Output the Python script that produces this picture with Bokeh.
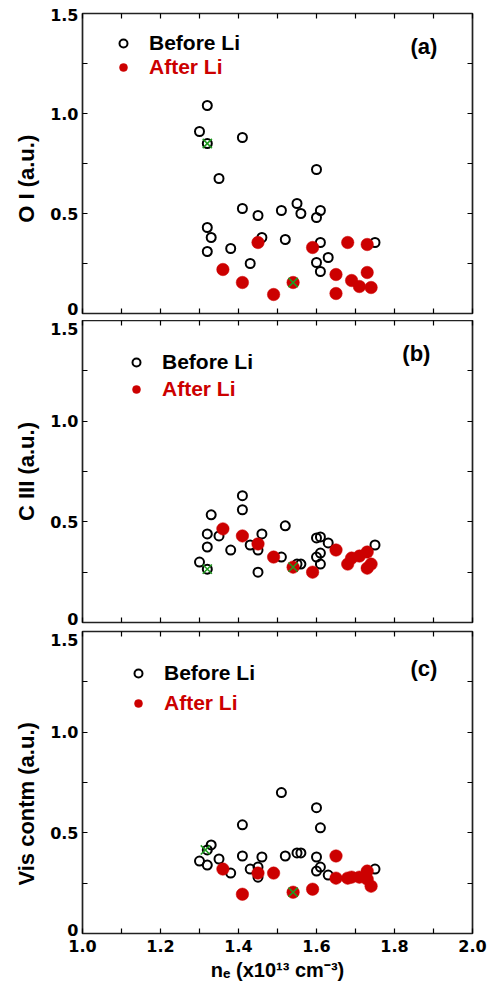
from bokeh.plotting import figure
from bokeh.models import (FixedTicker, LinearAxis, CustomJSTickFormatter, Legend,
                          LegendItem, Label, Range1d)
from bokeh.layouts import column
from bokeh.embed import file_html
from bokeh.resources import INLINE

# ---------------- data ----------------
x_ticks = [1.0, 1.2, 1.4, 1.6, 1.8, 2.0]
x_minor = [1.1, 1.3, 1.5, 1.7, 1.9]
y_ticks = [0.5, 1.0]
y_minor = [0.25, 0.75, 1.25]
y_all_ticks = [0.25, 0.5, 0.75, 1.0, 1.25]

# (a) O I
xa_before = [1.32, 1.30, 1.32, 1.41, 1.35, 1.60, 1.41, 1.45, 1.51, 1.55, 1.56, 1.61, 1.60,
             1.32, 1.33, 1.32, 1.38, 1.46, 1.52, 1.43, 1.61, 1.63, 1.60, 1.61, 1.75]
ya_before = [1.04, 0.91, 0.85, 0.88, 0.675, 0.72, 0.525, 0.49, 0.515, 0.55, 0.50, 0.515, 0.48,
             0.43, 0.38, 0.31, 0.325, 0.38, 0.37, 0.25, 0.355, 0.28, 0.255, 0.21, 0.355]
xa_after = [1.36, 1.45, 1.41, 1.49, 1.54, 1.59, 1.65, 1.65, 1.68, 1.69, 1.71, 1.73, 1.73, 1.74]
ya_after = [0.22, 0.355, 0.155, 0.095, 0.155, 0.33, 0.195, 0.10, 0.355, 0.165, 0.135, 0.345, 0.205, 0.13]
xa_mark = [1.32, 1.54]
ya_mark = [0.85, 0.155]

# (b) C III
xb_before = [1.30, 1.32, 1.32, 1.32, 1.33, 1.35, 1.38, 1.41, 1.41, 1.43, 1.45, 1.45, 1.46, 1.51,
             1.52, 1.55, 1.56, 1.60, 1.61, 1.63, 1.61, 1.60, 1.61, 1.75]
yb_before = [0.30, 0.265, 0.375, 0.44, 0.535, 0.43, 0.36, 0.63, 0.56, 0.385, 0.36, 0.25, 0.44, 0.325,
             0.48, 0.29, 0.29, 0.42, 0.425, 0.395, 0.345, 0.325, 0.29, 0.385]
xb_after = [1.36, 1.41, 1.45, 1.49, 1.54, 1.59, 1.65, 1.68, 1.69, 1.71, 1.73, 1.73, 1.74]
yb_after = [0.465, 0.43, 0.39, 0.325, 0.275, 0.25, 0.36, 0.29, 0.32, 0.33, 0.35, 0.27, 0.29]
xb_mark = [1.32, 1.54]
yb_mark = [0.265, 0.275]

# (c) Vis contm
xc_before = [1.30, 1.32, 1.32, 1.33, 1.35, 1.38, 1.41, 1.41, 1.43, 1.45, 1.45, 1.46, 1.51, 1.52,
             1.55, 1.56, 1.60, 1.61, 1.60, 1.61, 1.60, 1.63, 1.75]
yc_before = [0.36, 0.34, 0.415, 0.44, 0.37, 0.30, 0.385, 0.54, 0.32, 0.33, 0.28, 0.38, 0.70, 0.385,
             0.40, 0.40, 0.625, 0.525, 0.38, 0.33, 0.31, 0.29, 0.32]
xc_after = [1.36, 1.41, 1.45, 1.49, 1.54, 1.59, 1.65, 1.65, 1.68, 1.69, 1.71, 1.73, 1.73, 1.74]
yc_after = [0.32, 0.195, 0.30, 0.30, 0.205, 0.22, 0.385, 0.275, 0.275, 0.28, 0.28, 0.31, 0.27, 0.235]
xc_mark = [1.315, 1.54]
yc_mark = [0.415, 0.205]

RED = "#cc0000"
GREEN = "#1f9a1f"
NB = "\u00a0"

EMPTY = "return ''"
ONE_DEC = "return tick.toFixed(1)"
# end labels are drawn a little inside the panel span, as in the original
Y_LABELS = "if (tick < 0.1) return '0'; if (tick > 1.4) return '1.5'; return tick.toFixed(1);"


def style_axis(ax, code=EMPTY):
    ax.axis_line_color = None
    ax.major_tick_in = 5
    ax.major_tick_out = 0
    ax.minor_tick_in = 5
    ax.minor_tick_out = 0
    ax.major_tick_line_color = "black"
    ax.minor_tick_line_color = "black"
    ax.major_tick_line_width = 1.2
    ax.minor_tick_line_width = 1.2
    ax.formatter = CustomJSTickFormatter(code=code)
    if code == EMPTY:
        ax.major_label_standoff = 0


def make_panel(xb, yb, xa, ya, xm, ym, ylabel, tag, tag_xy, leg_pos, lab_pos,
               top, bottom, fh, show_x):
    p = figure(frame_width=390, frame_height=fh, output_backend="svg",
               toolbar_location=None, x_range=Range1d(1.0, 2.0), y_range=Range1d(0, 1.5),
               min_border_left=82, min_border_right=23, min_border_top=top,
               min_border_bottom=bottom, x_axis_location=None, y_axis_location=None)
    p.grid.visible = False
    p.outline_line_color = "#222222"
    p.outline_line_width = 1.7
    p.background_fill_color = "white"
    p.border_fill_color = "white"

    # x axes
    xt = FixedTicker(ticks=x_ticks, minor_ticks=x_minor)
    bottom_ax = LinearAxis(ticker=xt)
    style_axis(bottom_ax, ONE_DEC if show_x else EMPTY)
    if show_x:
        bottom_ax.major_label_text_font = "DejaVu Sans"
        bottom_ax.major_label_text_font_style = "bold"
        bottom_ax.major_label_text_font_size = "16px"
        bottom_ax.major_label_text_color = "black"
        bottom_ax.major_label_standoff = 6
        bottom_ax.axis_label = "n\u2091 (x10\u00b9\u00b3 cm\u207b\u00b3)"
        bottom_ax.axis_label_text_font = "Liberation Sans"
        bottom_ax.axis_label_text_font_style = "bold"
        bottom_ax.axis_label_text_font_size = "20px"
        bottom_ax.axis_label_text_color = "black"
        bottom_ax.axis_label_standoff = 4
    p.add_layout(bottom_ax, "below")
    top_ax = LinearAxis(ticker=xt)
    style_axis(top_ax)
    p.add_layout(top_ax, "above")

    # left axis: labels from major ticks (tick marks hidden), marks from minor ticks
    left_ax = LinearAxis(ticker=FixedTicker(ticks=lab_pos, minor_ticks=y_all_ticks))
    style_axis(left_ax, Y_LABELS)
    left_ax.major_tick_line_color = None
    left_ax.major_label_text_font = "DejaVu Sans"
    left_ax.major_label_text_font_style = "bold"
    left_ax.major_label_text_font_size = "16px"
    left_ax.major_label_text_color = "black"
    left_ax.major_label_standoff = 4
    left_ax.axis_label = ylabel
    left_ax.axis_label_text_font = "Liberation Sans"
    left_ax.axis_label_text_font_style = "bold"
    left_ax.axis_label_text_font_size = "22px"
    left_ax.axis_label_text_color = "black"
    left_ax.axis_label_standoff = 8
    p.add_layout(left_ax, "left")
    right_ax = LinearAxis(ticker=FixedTicker(ticks=y_ticks, minor_ticks=y_minor))
    style_axis(right_ax)
    p.add_layout(right_ax, "right")

    rb = p.scatter(xb, yb, size=9, marker="circle", fill_color=None,
                   line_color="black", line_width=2)
    ra = p.scatter(xa, ya, size=12.5, marker="circle", fill_color=RED,
                   line_color=RED, line_width=0.5)
    p.scatter(xm, ym, size=13, marker="x", line_color=GREEN, line_width=1.5)

    (lx, ly1, ly2) = leg_pos
    for item_lbl, rend, col, ly in (("Before Li", rb, "black", ly1), ("After Li", ra, RED, ly2)):
        leg = Legend(items=[LegendItem(label=item_lbl, renderers=[rend])],
                     location=(lx, ly), padding=0, margin=0, spacing=0,
                     border_line_color=None, background_fill_alpha=0,
                     glyph_width=20, glyph_height=24, label_height=24,
                     label_standoff=16, label_text_font="Liberation Sans",
                     label_text_font_style="bold", label_text_font_size="21px",
                     label_text_color=col, label_text_baseline="middle")
        p.add_layout(leg)

    p.add_layout(Label(x=tag_xy[0], y=tag_xy[1], text=tag, text_align="left",
                       text_baseline="middle", text_font="Liberation Sans",
                       text_font_style="bold", text_font_size="22px", text_color="black"))
    return p


pa = make_panel(xa_before, ya_before, xa_after, ya_after, xa_mark, ya_mark,
                "O I (a.u.)" + NB * 5, "(a)", (1.841, 1.335), (31, 258, 234),
                [0.024, 0.5, 1.0, 1.492],
                top=13, bottom=7, fh=300, show_x=False)
pb = make_panel(xb_before, yb_before, xb_after, yb_after, xb_mark, yb_mark,
                "C III (a.u.)", "(b)", (1.82, 1.336), (44, 248, 221),
                [0.019, 0.5, 1.0, 1.458],
                top=0, bottom=8, fh=302, show_x=False)
pc = make_panel(xc_before, yc_before, xc_after, yc_after, xc_mark, yc_mark,
                "Vis contm (a.u.)" + NB * 7, "(c)", (1.841, 1.316), (46, 248, 218),
                [0.017, 0.5, 1.0, 1.46],
                top=1, bottom=53, fh=302, show_x=True)

layout = column(pa, pb, pc, spacing=0)
open("out.html", "w").write(file_html(layout, INLINE))
